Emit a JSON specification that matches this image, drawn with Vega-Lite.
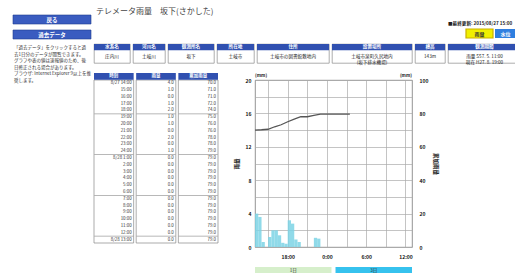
{
 "$schema": "https://vega.github.io/schema/vega-lite/v6.json",
 "background": "white",
 "padding": {"left": 12, "top": 6, "right": 0, "bottom": 0},
 "config": {
  "font": "Noto Sans CJK JP",
  "view": {"stroke": "#8a8a8a", "strokeWidth": 0.7, "fill": "white"},
  "text": {"font": "Noto Sans CJK JP"},
  "axis": {"labelFont": "Noto Sans CJK JP", "titleFont": "Noto Sans CJK JP", "labelOverlap": false, "tickCount": 100}
 },
 "datasets": {
  "bars": [
   {"t": "2015-08-27T13:00", "t2": "2015-08-27T13:30", "v": 4.0},
   {"t": "2015-08-27T13:30", "t2": "2015-08-27T14:00", "v": 3.6},
   {"t": "2015-08-27T14:00", "t2": "2015-08-27T14:30", "v": 0.6},
   {"t": "2015-08-27T15:00", "t2": "2015-08-27T15:30", "v": 1.2},
   {"t": "2015-08-27T15:30", "t2": "2015-08-27T16:00", "v": 2.0},
   {"t": "2015-08-27T16:00", "t2": "2015-08-27T16:30", "v": 2.0},
   {"t": "2015-08-27T16:30", "t2": "2015-08-27T17:00", "v": 1.4},
   {"t": "2015-08-27T17:00", "t2": "2015-08-27T17:30", "v": 0.5},
   {"t": "2015-08-27T17:30", "t2": "2015-08-27T18:00", "v": 0.4},
   {"t": "2015-08-27T18:00", "t2": "2015-08-27T18:30", "v": 3.2},
   {"t": "2015-08-27T18:30", "t2": "2015-08-27T19:00", "v": 2.8},
   {"t": "2015-08-27T19:00", "t2": "2015-08-27T19:30", "v": 0.9},
   {"t": "2015-08-27T19:30", "t2": "2015-08-27T20:00", "v": 0.6},
   {"t": "2015-08-27T22:00", "t2": "2015-08-27T22:30", "v": 1.1},
   {"t": "2015-08-27T22:30", "t2": "2015-08-27T23:00", "v": 1.0}
  ],
  "cum": [
   {"t": "2015-08-27T13:00", "c": 70.0},
   {"t": "2015-08-27T14:00", "c": 70.2},
   {"t": "2015-08-27T15:00", "c": 70.5},
   {"t": "2015-08-27T16:00", "c": 72.0},
   {"t": "2015-08-27T17:00", "c": 73.2},
   {"t": "2015-08-27T18:00", "c": 75.0},
   {"t": "2015-08-27T19:00", "c": 76.6},
   {"t": "2015-08-27T20:00", "c": 78.0},
   {"t": "2015-08-27T21:00", "c": 78.0},
   {"t": "2015-08-27T22:00", "c": 78.8},
   {"t": "2015-08-27T23:00", "c": 79.6},
   {"t": "2015-08-28T00:00", "c": 79.6},
   {"t": "2015-08-28T01:00", "c": 79.6},
   {"t": "2015-08-28T02:00", "c": 79.6},
   {"t": "2015-08-28T03:00", "c": 79.6},
   {"t": "2015-08-28T03:30", "c": 79.6}
  ],
  "tbl": [
   {"i": 1, "時刻": "8/27 14:00", "雨量": "4.0", "累加雨量": "70.0", "g": 0},
   {"i": 2, "時刻": "15:00", "雨量": "1.0", "累加雨量": "71.0", "g": 0},
   {"i": 3, "時刻": "16:00", "雨量": "0.0", "累加雨量": "71.0", "g": 0},
   {"i": 4, "時刻": "17:00", "雨量": "1.0", "累加雨量": "72.0", "g": 0},
   {"i": 5, "時刻": "18:00", "雨量": "2.0", "累加雨量": "74.0", "g": 0},
   {"i": 6, "時刻": "19:00", "雨量": "1.0", "累加雨量": "75.0", "g": 1},
   {"i": 7, "時刻": "20:00", "雨量": "1.0", "累加雨量": "76.0", "g": 0},
   {"i": 8, "時刻": "21:00", "雨量": "0.0", "累加雨量": "76.0", "g": 0},
   {"i": 9, "時刻": "22:00", "雨量": "2.0", "累加雨量": "78.0", "g": 0},
   {"i": 10, "時刻": "23:00", "雨量": "0.0", "累加雨量": "78.0", "g": 0},
   {"i": 11, "時刻": "24:00", "雨量": "1.0", "累加雨量": "79.0", "g": 0},
   {"i": 12, "時刻": "8/28 1:00", "雨量": "0.0", "累加雨量": "79.0", "g": 1},
   {"i": 13, "時刻": "2:00", "雨量": "0.0", "累加雨量": "79.0", "g": 0},
   {"i": 14, "時刻": "3:00", "雨量": "0.0", "累加雨量": "79.0", "g": 0},
   {"i": 15, "時刻": "4:00", "雨量": "0.0", "累加雨量": "79.0", "g": 0},
   {"i": 16, "時刻": "5:00", "雨量": "0.0", "累加雨量": "79.0", "g": 0},
   {"i": 17, "時刻": "6:00", "雨量": "0.0", "累加雨量": "79.0", "g": 0},
   {"i": 18, "時刻": "7:00", "雨量": "0.0", "累加雨量": "79.0", "g": 1},
   {"i": 19, "時刻": "8:00", "雨量": "0.0", "累加雨量": "79.0", "g": 0},
   {"i": 20, "時刻": "9:00", "雨量": "0.0", "累加雨量": "79.0", "g": 0},
   {"i": 21, "時刻": "10:00", "雨量": "0.0", "累加雨量": "79.0", "g": 0},
   {"i": 22, "時刻": "11:00", "雨量": "0.0", "累加雨量": "79.0", "g": 0},
   {"i": 23, "時刻": "12:00", "雨量": "0.0", "累加雨量": "79.0", "g": 0},
   {"i": 24, "時刻": "8/28 13:00", "雨量": "0.0", "累加雨量": "79.0", "g": 1}
  ]
 },
 "spacing": 1,
 "hconcat": [
  {
   "width": 78, "height": 78,
   "view": {"stroke": null},
   "layer": [
    {"data": {"values": [{"b": "戻る"}, {"b": "過去データ"}]},
     "mark": {"type": "rect", "fill": "#3a5cc0", "stroke": "#1f3c8f", "strokeWidth": 0.6},
     "encoding": {"y": {"field": "b", "type": "nominal", "sort": null, "scale": {"type": "band", "domain": ["戻る", "過去データ"], "range": [9, 33], "paddingInner": 0.4, "paddingOuter": 0}, "axis": null}}},
    {"data": {"values": [{"b": "戻る"}, {"b": "過去データ"}]},
     "mark": {"type": "text", "color": "white", "fontSize": 5.5, "fontWeight": "bold", "baseline": "middle"},
     "encoding": {"y": {"field": "b", "type": "nominal", "sort": null, "scale": {"type": "band", "domain": ["戻る", "過去データ"], "range": [9, 33], "paddingInner": 0.4, "paddingOuter": 0}, "axis": null}, "text": {"field": "b"}}},
    {"data": {"values": [
      {"n": 1, "s": "「過去データ」をクリックすると過"},
      {"n": 2, "s": "去1日分のデータが閲覧できます。"},
      {"n": 3, "s": "グラフや表の値は速報値のため、後"},
      {"n": 4, "s": "日修正される場合があります。"},
      {"n": 5, "s": "ブラウザ: Internet Explorer 9以上を推"},
      {"n": 6, "s": "奨します。"}
     ]},
     "mark": {"type": "text", "align": "left", "baseline": "middle", "fontSize": 4.5, "color": "#333"},
     "encoding": {
      "x": {"datum": 1, "type": "quantitative", "scale": {"domain": [0, 78], "nice": false}, "axis": null},
      "y": {"field": "n", "type": "ordinal", "scale": {"type": "point", "domain": [1, 2, 3, 4, 5, 6], "range": [42, 75], "padding": 0}, "axis": null},
      "text": {"field": "s"}}}
   ],
   "resolve": {"scale": {"y": "independent"}}
  },
  {
   "spacing": 6,
   "vconcat": [
    {
     "spacing": 1,
     "vconcat": [
      {
       "width": 414, "height": 36,
       "view": {"stroke": null},
       "layer": [
        {"data": {"values": [{"s": "テレメータ雨量　坂下(さかした)"}]},
         "mark": {"type": "text", "align": "left", "baseline": "top", "fontSize": 8, "color": "#444"},
         "encoding": {
          "x": {"datum": 2, "type": "quantitative", "scale": {"domain": [0, 414], "nice": false, "zero": false}, "axis": null},
          "y": {"datum": 2, "type": "quantitative", "scale": {"domain": [0, 36], "nice": false, "reverse": true}, "axis": null},
          "text": {"field": "s"}}},
        {"data": {"values": [{"s": "■最終更新: 2015/08/27 15:00"}]},
         "mark": {"type": "text", "align": "left", "baseline": "middle", "fontSize": 4.6, "fontWeight": "bold", "color": "#222"},
         "encoding": {"x": {"datum": 354, "type": "quantitative"}, "y": {"datum": 18, "type": "quantitative"}, "text": {"field": "s"}}},
        {"data": {"values": [{"b": "雨量"}]},
         "mark": {"type": "rect", "fill": "#f0f000", "stroke": "#c9b000", "strokeWidth": 1.2},
         "encoding": {"x": {"datum": 372, "type": "quantitative"}, "x2": {"datum": 399}, "y": {"datum": 23, "type": "quantitative"}, "y2": {"datum": 32}}},
        {"data": {"values": [{"b": "水位"}]},
         "mark": {"type": "rect", "fill": "#2f7fe0"},
         "encoding": {"x": {"datum": 401, "type": "quantitative"}, "x2": {"datum": 422}, "y": {"datum": 23, "type": "quantitative"}, "y2": {"datum": 32}}},
        {"data": {"values": [{"b": "雨量"}]},
         "mark": {"type": "text", "fontSize": 5, "fontWeight": "bold", "color": "#333", "baseline": "middle"},
         "encoding": {"x": {"datum": 385.5, "type": "quantitative"}, "y": {"datum": 27.5, "type": "quantitative"}, "text": {"field": "b"}}},
        {"data": {"values": [{"b": "水位"}]},
         "mark": {"type": "text", "fontSize": 5, "fontWeight": "bold", "color": "white", "baseline": "middle"},
         "encoding": {"x": {"datum": 411.5, "type": "quantitative"}, "y": {"datum": 27.5, "type": "quantitative"}, "text": {"field": "b"}}}
       ]
      },
      {
       "spacing": 1,
       "hconcat": [
        {"width": 36, "height": 19, "data": {"values": [{"h": "水系名", "d": "庄内川"}]},
         "layer": [
          {"mark": {"type": "rect", "fill": "#3050b0"}, "encoding": {"y": {"datum": "h", "type": "nominal", "scale": {"type": "band", "domain": ["h", "d1", "d2"], "paddingInner": 0, "paddingOuter": 0}, "axis": null}}},
          {"mark": {"type": "text", "color": "white", "fontSize": 4.6, "fontWeight": "bold", "baseline": "middle"}, "encoding": {"y": {"datum": "h", "type": "nominal"}, "text": {"field": "h"}}},
          {"mark": {"type": "text", "color": "#222", "fontSize": 4.6, "baseline": "middle", "lineBreak": "\n"}, "encoding": {"y": {"datum": "d1", "type": "nominal", "bandPosition": 1}, "text": {"field": "d"}}}
         ]},
        {"width": 32, "height": 19, "data": {"values": [{"h": "河川名", "d": "土岐川"}]},
         "layer": [
          {"mark": {"type": "rect", "fill": "#3050b0"}, "encoding": {"y": {"datum": "h", "type": "nominal", "scale": {"type": "band", "domain": ["h", "d1", "d2"], "paddingInner": 0, "paddingOuter": 0}, "axis": null}}},
          {"mark": {"type": "text", "color": "white", "fontSize": 4.6, "fontWeight": "bold", "baseline": "middle"}, "encoding": {"y": {"datum": "h", "type": "nominal"}, "text": {"field": "h"}}},
          {"mark": {"type": "text", "color": "#222", "fontSize": 4.6, "baseline": "middle", "lineBreak": "\n"}, "encoding": {"y": {"datum": "d1", "type": "nominal", "bandPosition": 1}, "text": {"field": "d"}}}
         ]},
        {"width": 46, "height": 19, "data": {"values": [{"h": "観測所名", "d": "坂下"}]},
         "layer": [
          {"mark": {"type": "rect", "fill": "#3050b0"}, "encoding": {"y": {"datum": "h", "type": "nominal", "scale": {"type": "band", "domain": ["h", "d1", "d2"], "paddingInner": 0, "paddingOuter": 0}, "axis": null}}},
          {"mark": {"type": "text", "color": "white", "fontSize": 4.6, "fontWeight": "bold", "baseline": "middle"}, "encoding": {"y": {"datum": "h", "type": "nominal"}, "text": {"field": "h"}}},
          {"mark": {"type": "text", "color": "#222", "fontSize": 4.6, "baseline": "middle", "lineBreak": "\n"}, "encoding": {"y": {"datum": "d1", "type": "nominal", "bandPosition": 1}, "text": {"field": "d"}}}
         ]},
        {"width": 37, "height": 19, "data": {"values": [{"h": "所在地", "d": "土岐市"}]},
         "layer": [
          {"mark": {"type": "rect", "fill": "#3050b0"}, "encoding": {"y": {"datum": "h", "type": "nominal", "scale": {"type": "band", "domain": ["h", "d1", "d2"], "paddingInner": 0, "paddingOuter": 0}, "axis": null}}},
          {"mark": {"type": "text", "color": "white", "fontSize": 4.6, "fontWeight": "bold", "baseline": "middle"}, "encoding": {"y": {"datum": "h", "type": "nominal"}, "text": {"field": "h"}}},
          {"mark": {"type": "text", "color": "#222", "fontSize": 4.6, "baseline": "middle", "lineBreak": "\n"}, "encoding": {"y": {"datum": "d1", "type": "nominal", "bandPosition": 1}, "text": {"field": "d"}}}
         ]},
        {"width": 72, "height": 19, "data": {"values": [{"h": "住所", "d": "土岐市の図書館敷地内"}]},
         "layer": [
          {"mark": {"type": "rect", "fill": "#3050b0"}, "encoding": {"y": {"datum": "h", "type": "nominal", "scale": {"type": "band", "domain": ["h", "d1", "d2"], "paddingInner": 0, "paddingOuter": 0}, "axis": null}}},
          {"mark": {"type": "text", "color": "white", "fontSize": 4.6, "fontWeight": "bold", "baseline": "middle"}, "encoding": {"y": {"datum": "h", "type": "nominal"}, "text": {"field": "h"}}},
          {"mark": {"type": "text", "color": "#222", "fontSize": 4.6, "baseline": "middle", "lineBreak": "\n"}, "encoding": {"y": {"datum": "d1", "type": "nominal", "bandPosition": 1}, "text": {"field": "d"}}}
         ]},
        {"width": 80, "height": 19, "data": {"values": [{"h": "設置場所", "d": "土岐市泉町久尻地内\n(坂下排水機場)"}]},
         "layer": [
          {"mark": {"type": "rect", "fill": "#3050b0"}, "encoding": {"y": {"datum": "h", "type": "nominal", "scale": {"type": "band", "domain": ["h", "d1", "d2"], "paddingInner": 0, "paddingOuter": 0}, "axis": null}}},
          {"mark": {"type": "text", "color": "white", "fontSize": 4.6, "fontWeight": "bold", "baseline": "middle"}, "encoding": {"y": {"datum": "h", "type": "nominal"}, "text": {"field": "h"}}},
          {"mark": {"type": "text", "color": "#222", "fontSize": 4.6, "baseline": "middle", "lineBreak": "\n"}, "encoding": {"y": {"datum": "d1", "type": "nominal", "bandPosition": 1}, "text": {"field": "d"}}}
         ]},
        {"width": 30, "height": 19, "data": {"values": [{"h": "標高", "d": "143m"}]},
         "layer": [
          {"mark": {"type": "rect", "fill": "#3050b0"}, "encoding": {"y": {"datum": "h", "type": "nominal", "scale": {"type": "band", "domain": ["h", "d1", "d2"], "paddingInner": 0, "paddingOuter": 0}, "axis": null}}},
          {"mark": {"type": "text", "color": "white", "fontSize": 4.6, "fontWeight": "bold", "baseline": "middle"}, "encoding": {"y": {"datum": "h", "type": "nominal"}, "text": {"field": "h"}}},
          {"mark": {"type": "text", "color": "#222", "fontSize": 4.6, "baseline": "middle", "lineBreak": "\n"}, "encoding": {"y": {"datum": "d1", "type": "nominal", "bandPosition": 1}, "text": {"field": "d"}}}
         ]},
        {"width": 73, "height": 19, "data": {"values": [{"h": "観測期間", "d": "雨量 S57. 5. 11:00\n現在 H27. 8. 19:00"}]},
         "layer": [
          {"mark": {"type": "rect", "fill": "#3050b0"}, "encoding": {"y": {"datum": "h", "type": "nominal", "scale": {"type": "band", "domain": ["h", "d1", "d2"], "paddingInner": 0, "paddingOuter": 0}, "axis": null}}},
          {"mark": {"type": "text", "color": "white", "fontSize": 4.6, "fontWeight": "bold", "baseline": "middle"}, "encoding": {"y": {"datum": "h", "type": "nominal"}, "text": {"field": "h"}}},
          {"mark": {"type": "text", "color": "#222", "fontSize": 4.6, "baseline": "middle", "lineBreak": "\n"}, "encoding": {"y": {"datum": "d1", "type": "nominal", "bandPosition": 1}, "text": {"field": "d"}}}
         ]}
       ]
      }
     ]
    },
    {
     "spacing": 14,
     "hconcat": [
      {
       "width": 124, "height": 163,
       "view": {"stroke": null},
       "layer": [
        {"data": {"values": [{"col": "時刻"}, {"col": "雨量"}, {"col": "累加雨量"}]},
         "mark": {"type": "rect", "fill": "white", "stroke": "#888", "strokeWidth": 0.7},
         "encoding": {"x": {"field": "col", "type": "nominal", "sort": null, "scale": {"type": "band", "domain": ["時刻", "雨量", "累加雨量"], "paddingInner": 0.06, "paddingOuter": 0}, "axis": null}}},
        {"data": {"values": [{"col": "時刻"}, {"col": "雨量"}, {"col": "累加雨量"}]},
         "mark": {"type": "rect", "fill": "#3050b0"},
         "encoding": {
          "x": {"field": "col", "type": "nominal", "sort": null},
          "y": {"datum": 0, "type": "ordinal", "scale": {"type": "band", "domain": [0, 1, 2, 3, 4, 5, 6, 7, 8, 9, 10, 11, 12, 13, 14, 15, 16, 17, 18, 19, 20, 21, 22, 23, 24], "range": [-7, 163], "paddingInner": 0, "paddingOuter": 0}, "axis": null}}},
        {"data": {"values": [{"col": "時刻"}, {"col": "雨量"}, {"col": "累加雨量"}]},
         "mark": {"type": "text", "color": "white", "fontSize": 4.5, "fontWeight": "bold", "baseline": "middle"},
         "encoding": {"x": {"field": "col", "type": "nominal", "sort": null}, "y": {"datum": 0, "type": "ordinal"}, "text": {"field": "col"}}},
        {"data": {"name": "tbl"},
         "transform": [{"fold": ["時刻", "雨量", "累加雨量"], "as": ["col", "val"]}],
         "mark": {"type": "text", "color": "#333", "fontSize": 4.4, "align": "right", "baseline": "middle", "dx": -2},
         "encoding": {"x": {"field": "col", "type": "nominal", "sort": null, "bandPosition": 1}, "y": {"field": "i", "type": "ordinal"}, "text": {"field": "val"}}},
        {"data": {"name": "tbl"},
         "transform": [{"filter": "datum.g == 1"}, {"fold": ["時刻", "雨量", "累加雨量"], "as": ["col", "val"]}],
         "mark": {"type": "tick", "orient": "horizontal", "size": 39, "thickness": 0.8, "color": "#777"},
         "encoding": {"x": {"field": "col", "type": "nominal", "sort": null}, "y": {"field": "i", "type": "ordinal", "bandPosition": 0}}}
       ]
      },
      {
       "spacing": 7,
       "vconcat": [
        {
         "width": 157, "height": 167,
         "view": {"stroke": "#777", "strokeWidth": 0.8},
         "layer": [
          {"layer": [
            {"data": {"name": "bars"},
             "mark": {"type": "bar", "color": "#7dd4e5", "opacity": 0.85},
             "encoding": {
              "x": {"field": "t", "type": "temporal",
                    "scale": {"domain": [{"year": 2015, "month": 8, "date": 27, "hours": 13}, {"year": 2015, "month": 8, "date": 28, "hours": 13}]},
                    "axis": {"values": [
                      {"year": 2015, "month": 8, "date": 27, "hours": 15},
                      {"year": 2015, "month": 8, "date": 27, "hours": 18},
                      {"year": 2015, "month": 8, "date": 27, "hours": 21},
                      {"year": 2015, "month": 8, "date": 28, "hours": 0},
                      {"year": 2015, "month": 8, "date": 28, "hours": 3},
                      {"year": 2015, "month": 8, "date": 28, "hours": 6},
                      {"year": 2015, "month": 8, "date": 28, "hours": 9},
                      {"year": 2015, "month": 8, "date": 28, "hours": 12}],
                     "tickCount": 100,
                     "labelExpr": "hours(datum.value) % 6 == 0 ? timeFormat(datum.value, '%-H:%M') : ''",
                     "title": null, "grid": true, "gridColor": "#aaa", "gridWidth": 0.7, "domain": false, "ticks": false,
                     "labelFontSize": 5, "labelFontWeight": "bold", "labelColor": "#111", "labelPadding": 7, "labelFlush": false, "labelOverlap": false}},
              "x2": {"field": "t2"},
              "y": {"field": "v", "type": "quantitative", "scale": {"domain": [0, 20], "nice": false},
                    "axis": {"values": [0, 2, 4, 6, 8, 10, 12, 14, 16, 18, 20], "tickCount": 100, "format": "d",
                     "labelExpr": "datum.value % 4 == 0 ? datum.label : ''",
                     "title": "雨量", "titleFontSize": 5.5, "titleFontWeight": "bold", "titleColor": "#111", "titlePadding": 6,
                     "grid": true, "gridColor": "#aaa", "gridWidth": 0.7, "domain": false, "ticks": false, "labelOverlap": false,
                     "labelFontSize": 5, "labelFontWeight": "bold", "labelColor": "#111", "labelPadding": 4}},
              "y2": {"datum": 0}}},
            {"data": {"values": [{"u": "(mm)"}]},
             "mark": {"type": "text", "align": "left", "baseline": "bottom", "fontSize": 4.5, "fontWeight": "bold", "dy": -2, "color": "#222"},
             "encoding": {"x": {"datum": {"year": 2015, "month": 8, "date": 27, "hours": 13}, "type": "temporal"}, "y": {"datum": 20, "type": "quantitative"}, "text": {"field": "u"}}}
          ]},
          {"layer": [
            {"data": {"name": "cum"},
             "mark": {"type": "line", "color": "#555", "strokeWidth": 1.3},
             "encoding": {
              "x": {"field": "t", "type": "temporal"},
              "y": {"field": "c", "type": "quantitative", "scale": {"domain": [0, 100], "nice": false},
                    "axis": {"orient": "right", "values": [0, 20, 40, 60, 80, 100], "tickCount": 100, "format": "d", "title": "累加雨量",
                     "titleFontSize": 5.5, "titleFontWeight": "bold", "titleColor": "#111", "titlePadding": 5,
                     "grid": false, "domain": false, "ticks": false, "labelOverlap": false,
                     "labelFontSize": 5, "labelFontWeight": "bold", "labelColor": "#111", "labelPadding": 7}}}},
            {"data": {"values": [{"u": "(mm)"}]},
             "mark": {"type": "text", "align": "right", "baseline": "bottom", "fontSize": 4.5, "fontWeight": "bold", "dy": -2, "color": "#222"},
             "encoding": {"x": {"datum": {"year": 2015, "month": 8, "date": 28, "hours": 13}, "type": "temporal"}, "y": {"datum": 100, "type": "quantitative"}, "text": {"field": "u"}}}
          ]}
         ],
         "resolve": {"scale": {"y": "independent"}}
        },
        {
         "width": 157, "height": 7,
         "view": {"stroke": null},
         "data": {"values": [{"k": "1日"}, {"k": "3日"}]},
         "layer": [
          {"mark": {"type": "rect"},
           "encoding": {
            "x": {"field": "k", "type": "nominal", "sort": null, "scale": {"type": "band", "paddingInner": 0.05, "paddingOuter": 0}, "axis": null},
            "color": {"field": "k", "type": "nominal", "scale": {"domain": ["1日", "3日"], "range": ["#d6efcb", "#36c2ee"]}, "legend": null}}},
          {"mark": {"type": "text", "fontSize": 4.6, "color": "#333", "baseline": "middle"},
           "encoding": {"x": {"field": "k", "type": "nominal", "sort": null}, "text": {"field": "k"}}}
         ]
        }
       ]
      }
     ]
    }
   ]
  }
 ]
}
